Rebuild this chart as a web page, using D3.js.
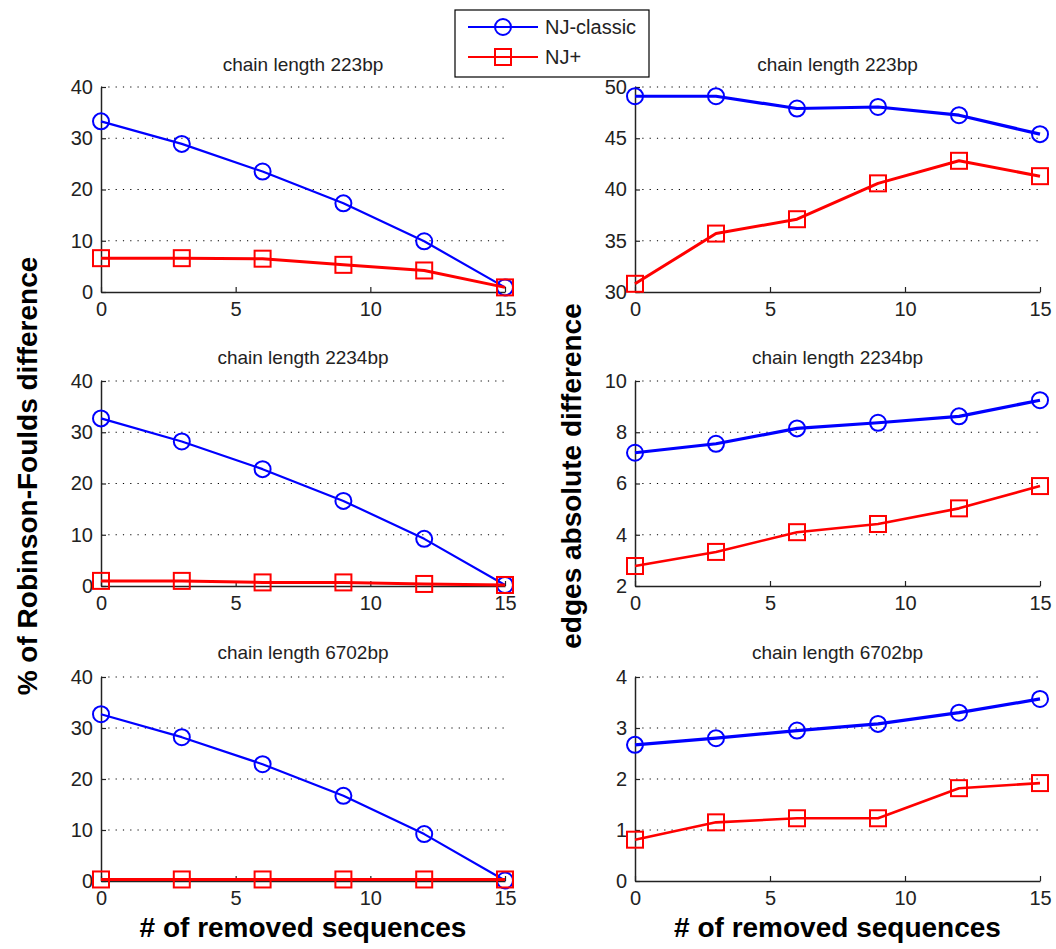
<!DOCTYPE html>
<html>
<head>
<meta charset="utf-8">
<script src="https://cdn.jsdelivr.net/npm/d3@7"></script>
<style>
  html, body { margin: 0; padding: 0; background: #fff; }
  svg { display: block; font-family: "Liberation Sans", Arial, sans-serif; }
</style>
</head>
<body>
<svg id="chart" width="1056" height="949"></svg>
<script>
// ---- data ----
const removed = [0, 3, 6, 9, 12, 15];
const seriesNames = ["NJ-classic", "NJ+"];
const titles = ["chain length 223bp", "chain length 2234bp", "chain length 6702bp"];

const rfClassic223  = [33.3, 28.9, 23.5, 17.3, 9.9, 0.9];
const rfPlus223     = [6.6, 6.6, 6.5, 5.3, 4.2, 0.9];
const rfClassic2234 = [32.7, 28.2, 22.8, 16.6, 9.2, 0.2];
const rfPlus2234    = [1.0, 1.0, 0.7, 0.7, 0.4, 0.2];
const rfClassic6702 = [32.7, 28.2, 22.9, 16.7, 9.2, 0.1];
const rfPlus6702    = [0.3, 0.3, 0.3, 0.3, 0.3, 0.3];

const edClassic223  = [49.1, 49.1, 47.9, 48.05, 47.25, 45.4];
const edPlus223     = [30.8, 35.7, 37.1, 40.6, 42.8, 41.3];
const edClassic2234 = [7.2, 7.55, 8.15, 8.37, 8.62, 9.25];
const edPlus2234    = [2.78, 3.33, 4.1, 4.42, 5.03, 5.9];
const edClassic6702 = [2.67, 2.8, 2.95, 3.08, 3.3, 3.57];
const edPlus6702    = [0.81, 1.15, 1.23, 1.23, 1.82, 1.92];

const xTicks = [0, 5, 10, 15];
const rfTicks = [0, 10, 20, 30, 40];
const edTicks223 = [30, 35, 40, 45, 50];
const edTicks2234 = [2, 4, 6, 8, 10];
const edTicks6702 = [0, 1, 2, 3, 4];

const xLabel = "# of removed sequences";
const yLabelLeft = "% of Robinson-Foulds difference";
const yLabelRight = "edges absolute difference";

// ---- layout ----
const svg = d3.select("#chart");
const BLUE = "#0000ff", RED = "#ff0000", INK = "#222";
const cols = [{x0: 101, x1: 505}, {x0: 635, x1: 1040}];
const rows = [{y0: 87, y1: 292, tb: 71}, {y0: 381, y1: 586, tb: 364}, {y0: 677, y1: 881, tb: 659}];

const panels = [
  {c: 0, r: 0, dom: [0, 40], ticks: rfTicks, a: rfClassic223, b: rfPlus223, wa: 2.2, wb: 3},
  {c: 0, r: 1, dom: [0, 40], ticks: rfTicks, a: rfClassic2234, b: rfPlus2234, wa: 2.2, wb: 3},
  {c: 0, r: 2, dom: [0, 40], ticks: rfTicks, a: rfClassic6702, b: rfPlus6702, wa: 2.2, wb: 3},
  {c: 1, r: 0, dom: [30, 50], ticks: edTicks223, a: edClassic223, b: edPlus223, wa: 3.2, wb: 3},
  {c: 1, r: 1, dom: [2, 10], ticks: edTicks2234, a: edClassic2234, b: edPlus2234, wa: 3.2, wb: 2.6},
  {c: 1, r: 2, dom: [0, 4], ticks: edTicks6702, a: edClassic6702, b: edPlus6702, wa: 3.2, wb: 2.6}
];

function drawMarker(g, kind, cx, cy, color) {
  if (kind === 0) {
    g.append("circle").attr("cx", cx).attr("cy", cy).attr("r", 8)
      .attr("fill", "none").attr("stroke", color).attr("stroke-width", 2);
  } else {
    g.append("rect").attr("x", cx - 8).attr("y", cy - 8).attr("width", 16).attr("height", 16)
      .attr("fill", "none").attr("stroke", color).attr("stroke-width", 2);
  }
}

panels.forEach(p => {
  const col = cols[p.c], row = rows[p.r];
  const x = d3.scaleLinear().domain([0, 15]).range([col.x0, col.x1]);
  const y = d3.scaleLinear().domain(p.dom).range([row.y1, row.y0]);
  const g = svg.append("g");

  // grid (dotted)
  g.append("g").selectAll("line").data(p.ticks.filter(t => t !== p.dom[0])).join("line")
    .attr("x1", col.x0).attr("x2", col.x1)
    .attr("y1", d => y(d)).attr("y2", d => y(d))
    .attr("stroke", "#000").attr("stroke-width", 1.2)
    .attr("stroke-dasharray", "1.2,6.1");

  // axes
  const xa = g.append("g").attr("transform", `translate(0,${row.y1})`)
    .call(d3.axisBottom(x).tickValues(xTicks).tickSizeInner(-5).tickSizeOuter(0).tickPadding(10).tickFormat(d3.format("d")));
  const ya = g.append("g").attr("transform", `translate(${col.x0},0)`)
    .call(d3.axisLeft(y).tickValues(p.ticks).tickSizeInner(-5).tickSizeOuter(0).tickPadding(8).tickFormat(d3.format("d")));
  [xa, ya].forEach(a => {
    a.selectAll("path.domain").attr("stroke", INK).attr("stroke-width", 1.5);
    a.selectAll(".tick line").attr("stroke", INK).attr("stroke-width", 1.2);
    a.selectAll(".tick text").attr("fill", INK)
      .style("font-family", "'Liberation Sans', Arial, sans-serif").style("font-size", "20px");
  });

  // title
  g.append("text").attr("x", (col.x0 + col.x1) / 2).attr("y", row.tb)
    .attr("text-anchor", "middle").attr("fill", INK).style("font-size", "19px")
    .text(titles[p.r]);

  // lines + markers
  const line = d3.line().x((d, i) => x(removed[i])).y(d => y(d));
  [[p.a, BLUE, p.wa, 0], [p.b, RED, p.wb, 1]].forEach(([vals, color, w, kind]) => {
    g.append("path").datum(vals).attr("d", line)
      .attr("fill", "none").attr("stroke", color).attr("stroke-width", w).attr("stroke-linejoin", "round");
    vals.forEach((v, i) => drawMarker(g, kind, x(removed[i]), y(v), color));
  });
});

// axis labels
[[cols[0], yLabelLeft, 37], [cols[1], yLabelRight, 581]].forEach(([col, txt, bx]) => {
  svg.append("text").attr("transform", `translate(${bx},476) rotate(-90)`)
    .attr("text-anchor", "middle").attr("fill", "#000")
    .style("font-size", "28px").style("font-weight", "bold").text(txt);
  svg.append("text").attr("x", (col.x0 + col.x1) / 2).attr("y", 937)
    .attr("text-anchor", "middle").attr("fill", "#000")
    .style("font-size", "28px").style("font-weight", "bold").text(xLabel);
});

// legend
const lg = svg.append("g");
lg.append("rect").attr("x", 455).attr("y", 10).attr("width", 194).attr("height", 67)
  .attr("fill", "#fff").attr("stroke", "#000").attr("stroke-width", 1.2);
seriesNames.forEach((name, i) => {
  const ly = 27 + i * 30, color = i === 0 ? BLUE : RED;
  lg.append("line").attr("x1", 468).attr("x2", 538).attr("y1", ly).attr("y2", ly)
    .attr("stroke", color).attr("stroke-width", 2.2);
  drawMarker(lg, i, 503, ly, color);
  lg.append("text").attr("x", 545).attr("y", ly + 7).attr("fill", INK)
    .style("font-size", "20px").text(name);
});
</script>
</body>
</html>
